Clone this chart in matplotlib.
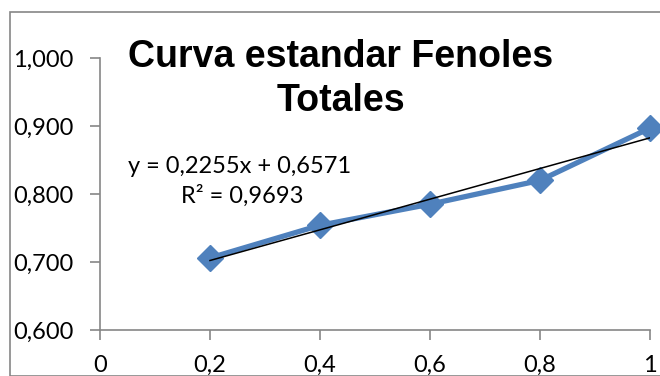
import matplotlib.pyplot as plt
import numpy as np
from matplotlib.patches import Rectangle

# datos
concentracion = [0.2, 0.4, 0.6, 0.8, 1.0]
absorbancia = [0.706, 0.754, 0.785, 0.820, 0.897]
x_ticks = [0, 0.2, 0.4, 0.6, 0.8, 1]
x_labels = ["0", "0,2", "0,4", "0,6", "0,8", "1"]
y_ticks = [0.6, 0.7, 0.8, 0.9, 1.0]
y_labels = ["0,600", "0,700", "0,800", "0,900", "1,000"]
pendiente = 0.2255
intercepto = 0.6571
r2 = 0.9693

W, H = 660, 376
fig = plt.figure(figsize=(W / 100, H / 100), dpi=100)
fig.patch.set_facecolor("white")

# borde del area del grafico
fig.patches.append(Rectangle((10 / W, 0), 1.0, 1 - 12 / H, transform=fig.transFigure,
                             fill=False, edgecolor="#868686", linewidth=1.2))

ax = fig.add_axes([100 / W, 1 - 330 / H, 550 / W, 272 / H])
ax.set_xlim(0, 1)
ax.set_ylim(0.6, 1.0)

ax.plot(concentracion, absorbancia, color="#4F81BD", linewidth=3.8,
        marker="D", markersize=13, zorder=2, clip_on=False)

xt = np.array([concentracion[0], concentracion[-1]])
ax.plot(xt, pendiente * xt + intercepto, color="black", linewidth=1.1, zorder=3)

fuente = ["Lato", "DejaVu Sans"]
tam = 17
ax.set_xticks(x_ticks)
ax.set_xticklabels(x_labels, fontsize=tam, family=fuente)
ax.set_yticks(y_ticks)
ax.set_yticklabels(y_labels, fontsize=tam, family=fuente)
ax.tick_params(axis="both", direction="out", length=7, width=1.2, color="#868686")
ax.tick_params(axis="y", pad=12)
ax.tick_params(axis="x", pad=11)

for s in ["top", "right"]:
    ax.spines[s].set_visible(False)
for s in ["left", "bottom"]:
    ax.spines[s].set_color("#868686")
    ax.spines[s].set_linewidth(1.2)

fig.text(341 / W, 1 - 67 / H, "Curva estandar Fenoles", ha="center", va="baseline",
         fontsize=27, fontweight="bold", family="Liberation Sans")
fig.text(341 / W, 1 - 111 / H, "Totales", ha="center", va="baseline",
         fontsize=27, fontweight="bold", family="Liberation Sans")

fig.text(240 / W, 1 - 173 / H, f"y = {pendiente:.4f}x + {intercepto:.4f}".replace(".", ","),
         ha="center", va="baseline", fontsize=tam, family=fuente)
fig.text(242 / W, 1 - 203 / H, "R² = " + f"{r2:.4f}".replace(".", ","),
         ha="center", va="baseline", fontsize=tam, family=fuente)

fig.savefig("out.png", dpi=100)
